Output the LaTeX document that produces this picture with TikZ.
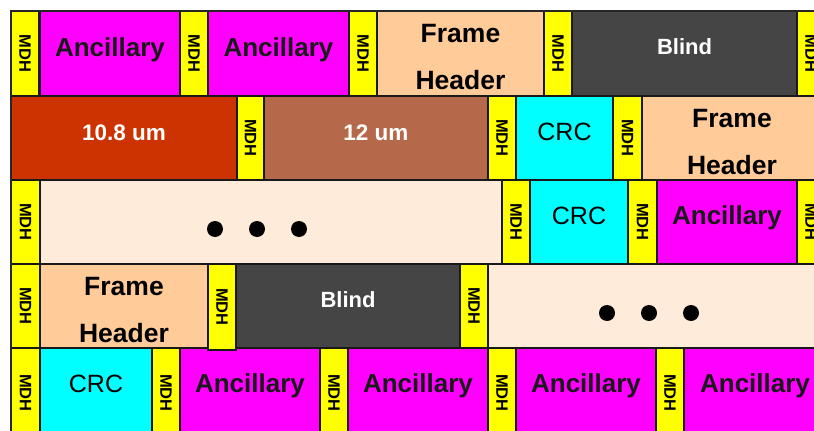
\documentclass[tikz,border=0pt]{standalone}
\usepackage{fontspec}
\setmainfont{Liberation Sans}
\usetikzlibrary{calc}
\definecolor{ancmag}{HTML}{FF00FF}
\definecolor{mdhyel}{HTML}{FFFF00}
\definecolor{fhpeach}{HTML}{FFCC99}
\definecolor{blindgray}{HTML}{454545}
\definecolor{umred}{HTML}{CC3300}
\definecolor{umbrown}{HTML}{B5694A}
\definecolor{crccyan}{HTML}{00FFFF}
\definecolor{gaplinen}{HTML}{FFEBDA}
\tikzset{
  cell/.style   = {draw=black!90, line width=1.2pt, anchor=north west,
                   inner sep=0pt, outer sep=0pt, minimum height=84pt},
  txt/.style    = {text height=8pt, text depth=3pt},
  mdh/.style    = {cell, fill=mdhyel, minimum width=28pt,
                   font=\fontsize{16.5}{16.5}\bfseries},
  anc/.style    = {cell, txt, fill=ancmag, text=black!90,
                   font=\fontsize{26}{26}\bfseries},
  fh/.style     = {cell, fill=fhpeach, align=center, text height=72.3pt,
                   text depth=0pt, font=\fontsize{26.5}{47}\bfseries},
  blind/.style  = {cell, text height=5pt, text depth=3pt, fill=blindgray, text=white,
                   font=\fontsize{22}{22}\bfseries},
  um/.style     = {cell, txt, text=white, font=\fontsize{22.5}{22.5}\bfseries},
  crc/.style    = {cell, txt, fill=crccyan, font=\fontsize{25}{25}\selectfont},
  gap/.style    = {cell, fill=gaplinen},
}
\newcommand{\mdhtext}{\rotatebox{-90}{MDH}}

\begin{document}
\begin{tikzpicture}[x=1pt, y=-1pt]
  \useasboundingbox (0,0) rectangle (814,431);
  \clip (0,0) rectangle (814,431);
  % row 1
  \node[mdh, minimum height=85pt] (r1m1) at (11,11) {\mdhtext};
  \node[anc, minimum height=85pt, minimum width=140pt] (r1anc1) at (40,11) {Ancillary};
  \node[mdh, minimum height=85pt] (r1m2) at (180,11) {\mdhtext};
  \node[anc, minimum height=85pt, minimum width=141pt] (r1anc2) at (208,11) {Ancillary};
  \node[mdh, minimum height=85pt] (r1m3) at (349,11) {\mdhtext};
  \node[fh, minimum height=85pt, minimum width=167pt] (r1fh) at (377,11) {Frame\\Header};
  \node[mdh, minimum height=85pt] (r1m4) at (544,11) {\mdhtext};
  \node[blind, minimum height=85pt, minimum width=225pt] (r1blind) at (572,11) {Blind};
  \node[mdh, minimum height=85pt] (r1m5) at (797,11) {\mdhtext};
  % row 2
  \node[um, fill=umred, minimum width=226pt] (r2um1) at (11,96) {10.8 um};
  \node[mdh, minimum width=27pt] (r2m1) at (237,96) {\mdhtext};
  \node[um, fill=umbrown, minimum width=224pt] (r2um2) at (264,96) {12 um};
  \node[mdh] (r2m2) at (488,96) {\mdhtext};
  \node[crc, minimum width=97pt] (r2crc) at (516,96) {CRC};
  \node[mdh, minimum width=29pt] (r2m3) at (613,96) {\mdhtext};
  \node[fh, minimum width=180pt] (r2fh) at (642,96) {Frame\\Header};
  % row 3
  \node[mdh, minimum width=29pt] (r3m1) at (11,180) {\mdhtext};
  \node[gap, minimum width=462pt] (r3gap) at (40,180) {};
  \node[mdh] (r3m2) at (502,180) {\mdhtext};
  \node[crc, minimum width=98pt] (r3crc) at (530,180) {CRC};
  \node[mdh, minimum width=29pt] (r3m3) at (628,180) {\mdhtext};
  \node[anc, minimum width=140pt] (r3anc) at (657,180) {Ancillary};
  \node[mdh] (r3m4) at (797,180) {\mdhtext};
  % row 5
  \node[mdh, minimum width=29pt, minimum height=90pt] (r5m1) at (11,348) {\mdhtext};
  \node[crc, minimum width=112pt, minimum height=84pt] (r5crc) at (40,348) {CRC};
  \node[mdh, minimum height=90pt] (r5m2) at (152,348) {\mdhtext};
  \node[anc, minimum width=140pt] (r5anc1) at (180,348) {Ancillary};
  \node[mdh, minimum height=90pt] (r5m3) at (320,348) {\mdhtext};
  \node[anc, minimum width=140pt] (r5anc2) at (348,348) {Ancillary};
  \node[mdh, minimum height=90pt] (r5m4) at (488,348) {\mdhtext};
  \node[anc, minimum width=140pt] (r5anc3) at (516,348) {Ancillary};
  \node[mdh, minimum height=90pt] (r5m5) at (656,348) {\mdhtext};
  \node[anc, minimum width=142pt] (r5anc4) at (684,348) {Ancillary};
  % row 4
  \node[mdh, minimum width=29pt] (r4m1) at (11,264) {\mdhtext};
  \node[fh, minimum width=168pt] (r4fh) at (40,264) {Frame\\Header};
  \node[mdh, minimum height=86pt] (r4m2) at (208,264) {\mdhtext};
  \node[blind, minimum width=224pt] (r4blind) at (236,264) {Blind};
  \node[mdh] (r4m3) at (460,264) {\mdhtext};
  \node[gap, minimum width=342pt] (r4gap) at (488,264) {};
  % dots
  \foreach \dx in {0,42,84} {
    \fill ($(r3gap.north west)+(175+\dx,49)$) circle[radius=8pt];
    \fill ($(r4gap.north west)+(119+\dx,49)$) circle[radius=8pt];
  }
  \draw[line width=2.2pt, black!85] (11,440) |- (830,11);
\end{tikzpicture}
\end{document}
